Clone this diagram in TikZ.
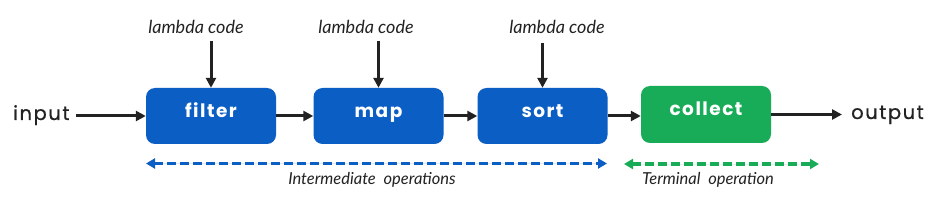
\documentclass[tikz,border=0pt]{standalone}
\usepackage{fontspec}
\setmainfont{Lato}
\newfontfamily\popfont[LetterSpace=8,FakeBold=0.7]{Poppins}
\newfontfamily\boxfont[LetterSpace=8]{Poppins}
\usetikzlibrary{arrows.meta}
\definecolor{opblue}{HTML}{0B5EC4}
\definecolor{opgreen}{HTML}{19AC58}
\definecolor{ink}{HTML}{222222}
\begin{document}
\begin{tikzpicture}[x=1pt,y=-1pt,
  opbox/.style={rounded corners=9pt, minimum width=130pt, minimum height=56pt, inner sep=0pt},
  boxtxt/.style={text=white, font=\boxfont\bfseries\fontsize{18.5}{20}\selectfont, inner sep=0pt, anchor=base},
  flow/.style={draw=ink, line width=3pt, -{Triangle[length=10pt,width=10pt]}},
  lam/.style={font=\itshape\fontsize{18}{20}\selectfont, text=ink, inner sep=0pt, anchor=base},
  side/.style={font=\popfont\fontsize{19.5}{21}\selectfont, text=ink, inner sep=0pt, anchor=base west},
  span/.style={line width=3.2pt, dash pattern=on 8.5pt off 4.5pt, {Triangle[length=9pt,width=10pt]}-{Triangle[length=9pt,width=10pt]}},
  spanlbl/.style={font=\itshape\fontsize{16.5}{18}\selectfont, text=ink, inner sep=0pt, anchor=base}]
\useasboundingbox (0,0) rectangle (934,203);
\fill[white] (0,0) rectangle (934,203);
% boxes
\node[opbox, fill=opblue] (filter) at (211,116) {};
\node[opbox, fill=opblue] (map) at (378.5,116) {};
\node[opbox, fill=opblue] (sort) at (542.5,116) {};
\node[opbox, fill=opgreen, minimum height=57pt] (collect) at (706,114.5) {};
\node[boxtxt] (tf) at (211,118) {filter};
\node[boxtxt] (tm) at (378.5,118) {map};
\node[boxtxt] (ts) at (542.5,118) {sort};
\node[boxtxt] (tc) at (706,116) {collect};
% side labels
\node[side] (input) at (13,120) {input};
\node[side] (output) at (851,119) {output};
% lambda labels
\node[lam] (l1) at (196,34) {lambda code};
\node[lam] (l2) at (366,34) {lambda code};
\node[lam] (l3) at (557,34) {lambda code};
\coordinate (a1) at (211,41);
\coordinate (a2) at (378.5,41);
\coordinate (a3) at (542.5,43);
\draw[flow] (a1) -- (filter.north);
\draw[flow] (a2) -- (map.north);
\draw[flow] (a3) -- (sort.north);
% flow arrows
\coordinate (in0) at (76,116);
\draw[flow] (in0) -- (filter.west);
\draw[flow] (filter.east) -- (map.west);
\draw[flow] (map.east) -- (sort.west);
\draw[flow] (sort.east) -- (sort.east -| collect.west);
\coordinate (out1) at (842,114.5);
\draw[flow] (collect.east) -- (out1);
% spans
\coordinate (b0) at (146,163.5);
\coordinate (b1) at (607,163.5);
\coordinate (g0) at (624,164);
\coordinate (g1) at (819,164);
\draw[span, draw=opblue, fill=opblue] (b0) -- (b1);
\draw[span, draw=opgreen, fill=opgreen] (g0) -- (g1);
\node[spanlbl] (il) at (372,184) {Intermediate\ \ operations};
\node[spanlbl] (tl) at (708,184) {Terminal\ \ operation};
\end{tikzpicture}
\end{document}
